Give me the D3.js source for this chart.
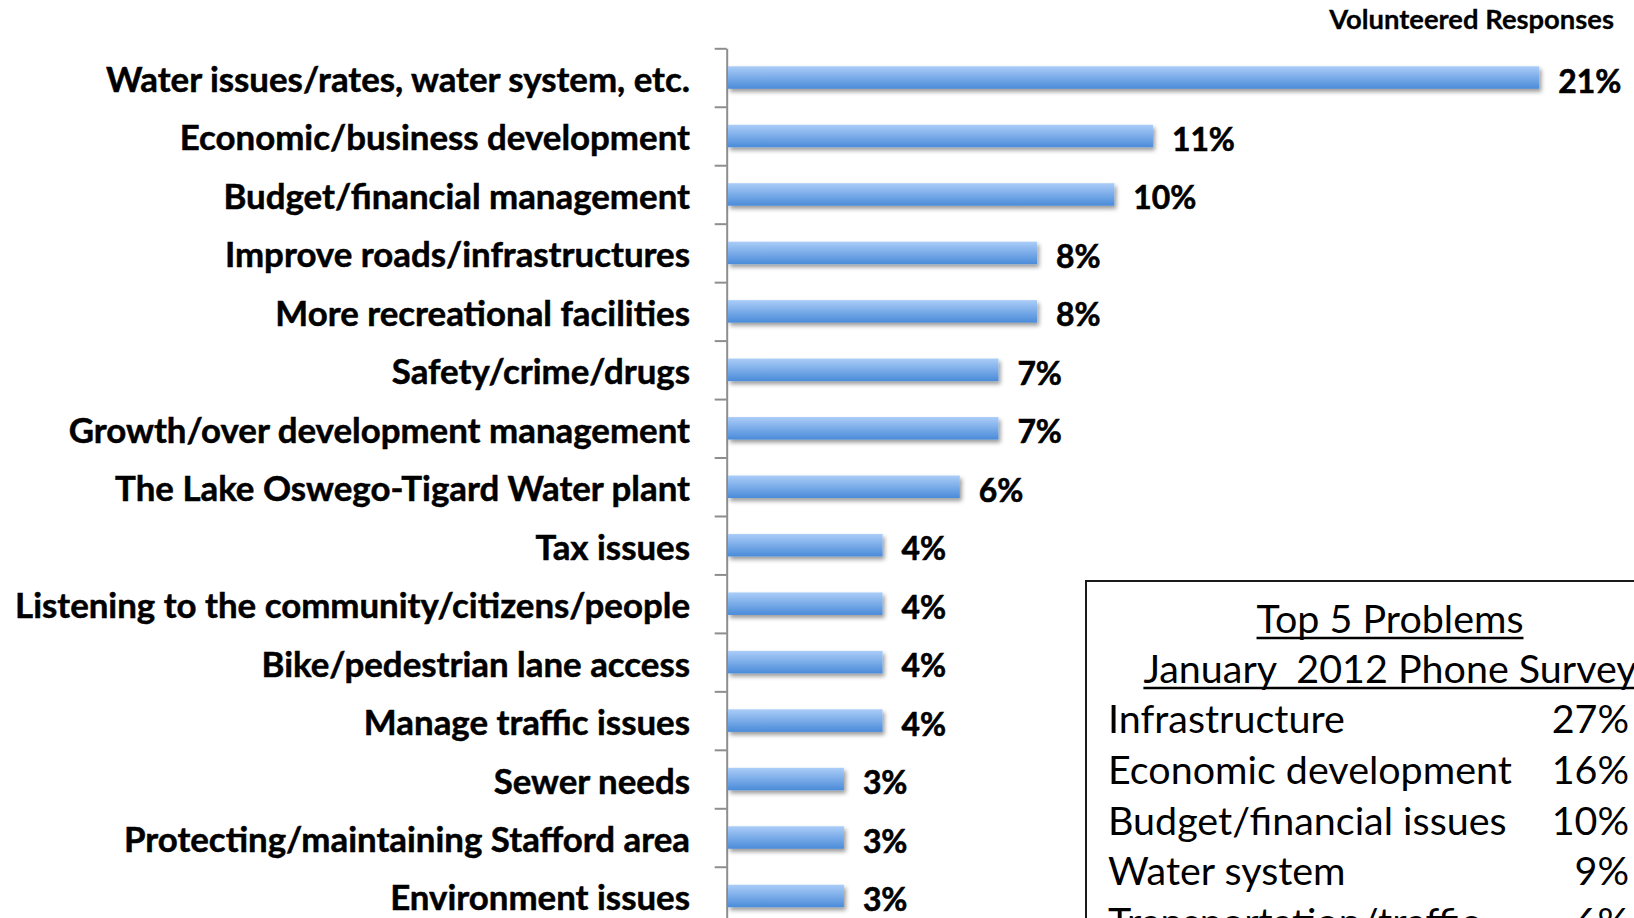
<!DOCTYPE html>
<html>
<head>
<meta charset="utf-8">
<script src="https://cdn.jsdelivr.net/npm/d3@7"></script>
<style>
  body { margin: 0; background: #fff; }
  svg { display: block; }
</style>
</head>
<body>
<svg id="chart" width="1634" height="918"></svg>
<script>
// volunteered responses (percent)
const categories = [
  "Water issues/rates, water system, etc.",
  "Economic/business development",
  "Budget/financial management",
  "Improve roads/infrastructures",
  "More recreational facilities",
  "Safety/crime/drugs",
  "Growth/over development management",
  "The Lake Oswego-Tigard Water plant",
  "Tax issues",
  "Listening to the community/citizens/people",
  "Bike/pedestrian lane access",
  "Manage traffic issues",
  "Sewer needs",
  "Protecting/maintaining Stafford area",
  "Environment issues"
];
const values = [21, 11, 10, 8, 8, 7, 7, 6, 4, 4, 4, 4, 3, 3, 3];

// inset table: top 5 problems, January 2012 phone survey
const problems = [
  "Infrastructure",
  "Economic development",
  "Budget/financial issues",
  "Water system",
  "Transportation/traffic"
];
const problemValues = [27, 16, 10, 9, 6];

const svg = d3.select("#chart");
const FONT = "Lato, 'Open Sans', sans-serif";

// pick a font size so that a string comes out at a given width
function fitSize(str, weight, target) {
  const t = svg.append("text")
    .attr("font-family", FONT)
    .attr("font-weight", weight)
    .attr("font-size", 100)
    .style("white-space", "pre")
    .text(str);
  const w = t.node().getComputedTextLength();
  t.remove();
  return 100 * target / w;
}

const labelSize = fitSize(categories[9], 700, 675);
const valueSize = fitSize("21%", 700, 63);
const boxSize = fitSize(problems[1], 400, 404);
const noteSize = fitSize("Volunteered Responses", 700, 285);

// scales
const step = 58.46;
const y = d3.scaleBand()
  .domain(categories)
  .range([48.3, 48.3 + step * categories.length])
  .paddingInner(0.615)
  .paddingOuter(0.3075);

const x = d3.scaleLinear()
  .domain([0, 21])
  .range([728, 1539.3]);

// defs: bar gradient + soft shadow
const defs = svg.append("defs");
const grad = defs.append("linearGradient")
  .attr("id", "barGrad")
  .attr("x1", 0).attr("y1", 0).attr("x2", 0).attr("y2", 1);
grad.append("stop").attr("offset", "0%").attr("stop-color", "#abcdf8");
grad.append("stop").attr("offset", "100%").attr("stop-color", "#4a8bd9");

const shadow = defs.append("filter")
  .attr("id", "shadow")
  .attr("x", "-5%").attr("y", "-30%")
  .attr("width", "115%").attr("height", "180%");
shadow.append("feDropShadow")
  .attr("dx", 2).attr("dy", 3)
  .attr("stdDeviation", 2)
  .attr("flood-color", "#000")
  .attr("flood-opacity", 0.4);

// category axis, ticks between categories
const idx = d3.scaleLinear()
  .domain([0, categories.length])
  .range(y.range());

svg.append("g")
  .attr("transform", `translate(${x(0) - 1.3},0)`)
  .call(d3.axisLeft(idx)
    .tickValues(d3.range(categories.length + 1))
    .tickFormat("")
    .tickSize(12)
    .tickSizeOuter(0))
  .call(g => g.selectAll("path, line")
    .attr("stroke", "#8e8e8e")
    .attr("stroke-width", 2));

// bars
svg.append("g")
  .selectAll("rect")
  .data(values)
  .join("rect")
  .attr("x", x(0))
  .attr("y", (d, i) => y(categories[i]))
  .attr("width", d => x(d) - x(0))
  .attr("height", y.bandwidth())
  .attr("fill", "url(#barGrad)")
  .attr("filter", "url(#shadow)");

// category labels (thin stroke to get closer to the heavy original weight)
svg.append("g")
  .selectAll("text")
  .data(categories)
  .join("text")
  .attr("x", 690)
  .attr("y", d => y(d) + y.bandwidth() / 2 + 14.5)
  .attr("text-anchor", "end")
  .attr("font-family", FONT)
  .attr("font-weight", 700)
  .attr("font-size", labelSize)
  .attr("fill", "#000")
  .attr("stroke", "#000")
  .attr("stroke-width", 0.5)
  .text(d => d);

// value labels
svg.append("g")
  .selectAll("text")
  .data(values)
  .join("text")
  .attr("x", d => x(d) + 19)
  .attr("y", (d, i) => y(categories[i]) + y.bandwidth() / 2 + 15)
  .attr("font-family", FONT)
  .attr("font-weight", 700)
  .attr("font-size", valueSize)
  .attr("fill", "#000")
  .attr("stroke", "#000")
  .attr("stroke-width", 0.6)
  .text(d => d + "%");

// note top right
svg.append("text")
  .attr("x", 1614)
  .attr("y", 29)
  .attr("text-anchor", "end")
  .attr("font-family", FONT)
  .attr("font-weight", 700)
  .attr("font-size", noteSize)
  .attr("stroke", "#000")
  .attr("stroke-width", 0.3)
  .text("Volunteered Responses");

// inset box
const box = svg.append("g");
box.append("rect")
  .attr("x", 1086)
  .attr("y", 581)
  .attr("width", 700)
  .attr("height", 500)
  .attr("fill", "#fff")
  .attr("stroke", "#1a1a1a")
  .attr("stroke-width", 2);

const titles = ["Top 5 Problems", "January  2012 Phone Survey"];
const titleY = [633, 683];
box.selectAll("text.title")
  .data(titles)
  .join("text")
  .attr("class", "title")
  .attr("x", 1390)
  .attr("y", (d, i) => titleY[i])
  .attr("text-anchor", "middle")
  .attr("font-family", FONT)
  .attr("font-size", boxSize)
  .style("white-space", "pre")
  .text(d => d)
  .each(function (d, i) {
    const w = this.getComputedTextLength();
    box.append("line")
      .attr("x1", 1390 - w / 2)
      .attr("x2", 1390 + w / 2)
      .attr("y1", titleY[i] + 5)
      .attr("y2", titleY[i] + 5)
      .attr("stroke", "#000")
      .attr("stroke-width", 2.5);
  });

const rowY = d3.scalePoint()
  .domain(problems)
  .range([733, 936]);

box.selectAll("text.name")
  .data(problems)
  .join("text")
  .attr("class", "name")
  .attr("x", 1108)
  .attr("y", d => rowY(d))
  .attr("font-family", FONT)
  .attr("font-size", boxSize)
  .text(d => d);

box.selectAll("text.pct")
  .data(problemValues)
  .join("text")
  .attr("class", "pct")
  .attr("x", 1629)
  .attr("y", (d, i) => rowY(problems[i]))
  .attr("text-anchor", "end")
  .attr("font-family", FONT)
  .attr("font-size", boxSize)
  .text(d => d + "%");
</script>
</body>
</html>
